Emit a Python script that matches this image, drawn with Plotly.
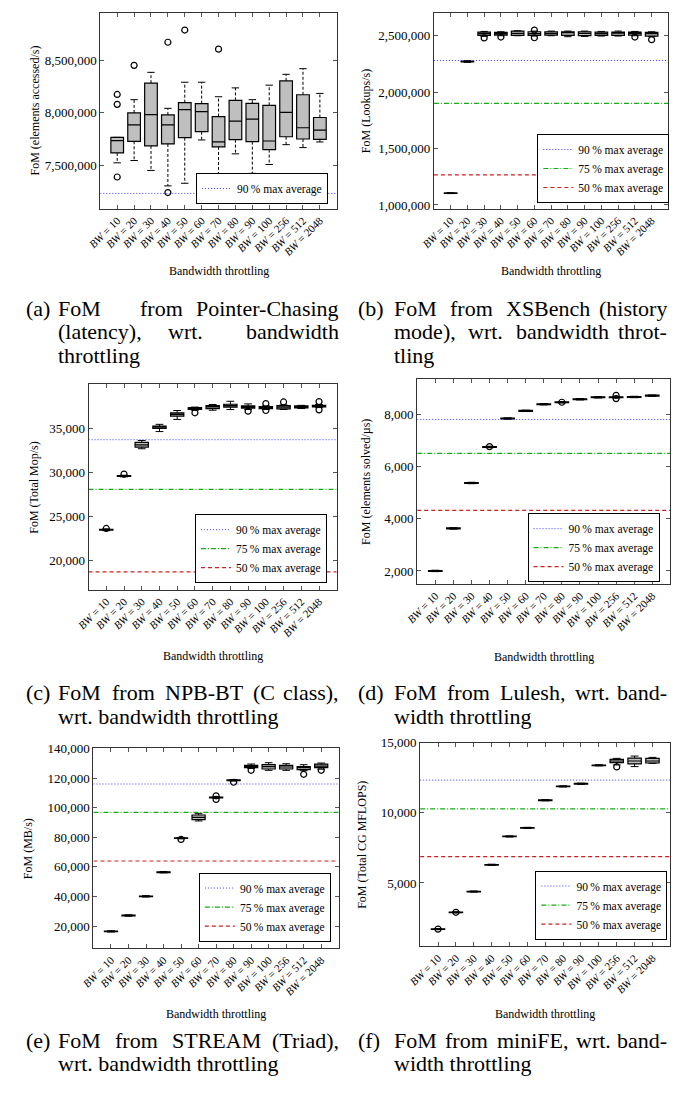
import plotly.graph_objects as go

W, H = 688, 1097
SERIF = "Liberation Serif"

# ---------------- data ----------------
bw_labels = ["10", "20", "30", "40", "50", "60", "70", "80", "90", "100", "256", "512", "2048"]
tick_text = [f"<i>BW</i> = {b}" for b in bw_labels]
xpos = list(range(len(bw_labels)))
ref_labels = ["90\u2009% max average", "75\u2009% max average", "50\u2009% max average"]

# (a) Pointer-Chasing
a_lo = [7522000, 7544000, 7449000, 7301000, 7326000, 7741000, 7290000, 7608000, 7421000, 7506000, 7696000, 7668000, 7722000]
a_q1 = [7617000, 7728000, 7684000, 7703000, 7763000, 7820000, 7674000, 7744000, 7725000, 7649000, 7772000, 7750000, 7747000]
a_med = [7734000, 7886000, 7984000, 7886000, 8032000, 8013000, 7722000, 7921000, 7940000, 7731000, 8006000, 7858000, 7835000]
a_q3 = [7766000, 8000000, 8285000, 7981000, 8098000, 8089000, 7965000, 8120000, 8092000, 8073000, 8307000, 8174000, 7956000]
a_hi = [7766000, 8127000, 8389000, 8044000, 8294000, 8294000, 8155000, 8240000, 8127000, 8266000, 8370000, 8424000, 8187000]
a_out_idx = [0, 0, 0, 1, 3, 3, 4, 6]
a_out_val = [8177000, 8082000, 7386000, 8456000, 8677000, 7237000, 8794000, 8611000]
a_ref = [7229000]
a_yticks = [7500000, 8000000, 8500000]

# (b) XSBench
b_lo = [1101000, 2264000, 2494000, 2500000, 2500000, 2497000, 2500000, 2491000, 2494000, 2497000, 2497000, 2500000, 2491000]
b_q1 = [1103000, 2268000, 2503000, 2506000, 2503000, 2503000, 2506000, 2503000, 2500000, 2503000, 2503000, 2506000, 2497000]
b_med = [1105000, 2272000, 2518000, 2518000, 2520000, 2518000, 2520000, 2529000, 2520000, 2518000, 2523000, 2520000, 2518000]
b_q3 = [1107000, 2275000, 2532000, 2529000, 2541000, 2535000, 2535000, 2535000, 2535000, 2532000, 2532000, 2532000, 2529000]
b_hi = [1109000, 2278000, 2538000, 2535000, 2544000, 2541000, 2541000, 2541000, 2541000, 2538000, 2541000, 2538000, 2535000]
b_out_idx = [2, 3, 5, 5, 11, 12]
b_out_val = [2480000, 2488000, 2550000, 2482000, 2488000, 2465000]
b_ref = [2280600, 1900500, 1267000]
b_yticks = [1000000, 1500000, 2000000, 2500000]

# (c) NPB-BT
c_lo = [23400, 29500, 32685, 34630, 36008, 37050, 37050, 37128, 37130, 37130, 37130, 37240, 37350]
c_q1 = [23450, 29540, 32870, 35000, 36380, 37130, 37240, 37390, 37278, 37240, 37203, 37315, 37427]
c_med = [23500, 29586, 33133, 35150, 36570, 37240, 37427, 37576, 37390, 37352, 37390, 37427, 37539]
c_q3 = [23550, 29630, 33400, 35260, 36755, 37350, 37576, 37725, 37539, 37465, 37576, 37539, 37614]
c_hi = [23600, 29680, 33620, 35450, 37016, 37400, 37690, 38062, 37763, 37540, 37650, 37600, 37700]
c_out_idx = [0, 1, 5, 8, 9, 9, 10, 12, 12]
c_out_val = [23650, 29810, 36755, 36942, 37800, 37016, 37987, 38025, 37090]
c_ref = [33705, 28088, 18725]
c_yticks = [20000, 25000, 30000, 35000]

# (d) Lulesh
d_med = [2002, 3628, 5367, 6747, 7835, 8127, 8380, 8456, 8570, 8646, 8646, 8658, 8709]
d_q1 = [1985, 3610, 5350, 6730, 7818, 8110, 8363, 8439, 8553, 8629, 8629, 8641, 8692]
d_q3 = [2019, 3646, 5384, 6764, 7852, 8144, 8397, 8473, 8587, 8663, 8663, 8675, 8726]
d_lo = [1975, 3600, 5340, 6720, 7808, 8100, 8353, 8429, 8543, 8619, 8619, 8631, 8682]
d_hi = [2029, 3656, 5394, 6774, 7862, 8154, 8407, 8483, 8597, 8673, 8673, 8685, 8736]
d_out_idx = [3, 7, 10, 10]
d_out_val = [6760, 8456, 8722, 8595]
d_ref = [7798, 6500, 4321]
d_yticks = [2000, 4000, 6000, 8000]

# (e) STREAM
e_lo = [16000, 26700, 39650, 55950, 78950, 91050, 106450, 118050, 126500, 125250, 125250, 125000, 126000]
e_q1 = [16250, 26950, 39900, 56200, 79200, 91950, 106700, 118300, 127040, 126140, 126140, 125700, 127040]
e_med = [16450, 27170, 40130, 56410, 79430, 93510, 106920, 118540, 127710, 127710, 127480, 127040, 128150]
e_q3 = [16650, 27400, 40350, 56650, 79650, 95070, 107150, 118750, 128600, 129050, 128600, 127700, 129500]
e_hi = [16900, 27650, 40600, 56900, 79900, 95970, 107400, 119000, 129500, 130390, 129720, 129050, 130170]
e_out_idx = [4, 6, 6, 7, 8, 11, 12]
e_out_val = [78540, 108040, 105580, 117200, 125250, 122570, 125250]
e_ref = [116000, 96860, 64000]
e_yticks = [20000, 40000, 60000, 80000, 100000, 120000, 140000]

# (f) miniFE
f_med = [1711, 2908, 4387, 6292, 8311, 8921, 10893, 11878, 12066, 13380, 13686, 13686, 13686]
f_q1 = [1690, 2885, 4365, 6270, 8290, 8900, 10870, 11855, 12045, 13358, 13568, 13474, 13545]
f_q3 = [1732, 2930, 4410, 6315, 8333, 8943, 10915, 11900, 12088, 13402, 13800, 13897, 13873]
f_lo = [1670, 2865, 4345, 6250, 8270, 8880, 10850, 11835, 12025, 13338, 13404, 13287, 13520]
f_hi = [1752, 2950, 4430, 6335, 8353, 8963, 10935, 11920, 12108, 13422, 13873, 14038, 13944]
f_out_idx = [0, 1, 10]
f_out_val = [1711, 2908, 13263]
f_ref = [12324, 10282, 6880]
f_yticks = [5000, 10000, 15000]

# ---------------- layout geometry (pixels) ----------------
X_RANGE = [-1, 13]
panels = [
    dict(L=89, R=330, T=6, B=204, yr=[7080000, 8958000], ytitle="FoM (elements accessed/s)", ytx=22, xty=267,
         leg=(321, 199)),
    dict(L=429, R=668, T=6, B=204, yr=[964900, 2701750], ytitle="FoM (Lookups/s)", ytx=360, xty=267,
         leg=(669, 198)),
    dict(L=77, R=330, T=381, B=589, yr=[16666, 40000], ytitle="FoM (Total Mop/s)", ytx=22, xty=656,
         leg=(320, 582)),
    dict(L=412, R=670, T=376, B=583, yr=[1496, 9337], ytitle="FoM (elements solved/\u00b5s)", ytx=359, xty=657,
         leg=(659, 581)),
    dict(L=82, R=332, T=749, B=951, yr=[4900, 140000], ytitle="FoM (MB/s)", ytx=16, xty=1017,
         leg=(324, 944)),
    dict(L=415, R=670, T=743, B=949, yr=[474, 15000], ytitle="FoM (Total CG MFLOPS)", ytx=355, xty=1017,
         leg=(667, 942)),
]
panel_data = [
    (a_lo, a_q1, a_med, a_q3, a_hi, a_out_idx, a_out_val, a_ref, a_yticks),
    (b_lo, b_q1, b_med, b_q3, b_hi, b_out_idx, b_out_val, b_ref, b_yticks),
    (c_lo, c_q1, c_med, c_q3, c_hi, c_out_idx, c_out_val, c_ref, c_yticks),
    (d_lo, d_q1, d_med, d_q3, d_hi, d_out_idx, d_out_val, d_ref, d_yticks),
    (e_lo, e_q1, e_med, e_q3, e_hi, e_out_idx, e_out_val, e_ref, e_yticks),
    (f_lo, f_q1, f_med, f_q3, f_hi, f_out_idx, f_out_val, f_ref, f_yticks),
]
ref_styles = [
    dict(color="#3a3aff", width=1, dash="1px,2px"),
    dict(color="#10b010", width=1.2, dash="5px,2px,1px,2px"),
    dict(color="#cc2020", width=1.2, dash="4px,3px"),
]

BOX_W = 0.75
CAP_HALF = 0.22

fig = go.Figure()
layout = dict(width=W, height=H, margin=dict(l=0, r=0, t=0, b=0), autosize=False,
              paper_bgcolor="white", plot_bgcolor="white", annotations=[])

for k, (geo, dat) in enumerate(zip(panels, panel_data), start=1):
    lo, q1, med, q3, hi, oi, ov, refs, yt = dat
    xa = "x" if k == 1 else f"x{k}"
    ya = "y" if k == 1 else f"y{k}"
    lg = "legend" if k == 1 else f"legend{k}"

    # reference lines
    for lvl, lab, st in zip(refs, ref_labels, ref_styles):
        fig.add_trace(go.Scatter(x=X_RANGE, y=[lvl, lvl], mode="lines", line=st, name=lab,
                                 xaxis=xa, yaxis=ya, legend=lg, showlegend=True, hoverinfo="skip"))

    # whiskers (dashed) and caps
    wx, wy = [], []
    cx, cy = [], []
    for i in xpos:
        wx += [i, i, None, i, i, None]
        wy += [q3[i], hi[i], None, q1[i], lo[i], None]
        cx += [i - CAP_HALF, i + CAP_HALF, None, i - CAP_HALF, i + CAP_HALF, None]
        cy += [hi[i], hi[i], None, lo[i], lo[i], None]
    fig.add_trace(go.Scatter(x=wx, y=wy, mode="lines", line=dict(color="black", width=1, dash="3px,2px"),
                             xaxis=xa, yaxis=ya, showlegend=False, hoverinfo="skip"))
    fig.add_trace(go.Scatter(x=cx, y=cy, mode="lines", line=dict(color="black", width=1),
                             xaxis=xa, yaxis=ya, showlegend=False, hoverinfo="skip"))

    # boxes
    fig.add_trace(go.Box(x=xpos, q1=q1, median=med, q3=q3, lowerfence=q1, upperfence=q3,
                         width=BOX_W, whiskerwidth=0, fillcolor="#bfbfbf",
                         line=dict(color="black", width=1.2), boxpoints=False,
                         xaxis=xa, yaxis=ya, showlegend=False, hoverinfo="skip"))

    # outliers
    fig.add_trace(go.Scatter(x=oi, y=ov, mode="markers",
                             marker=dict(symbol="circle-open", size=6, color="black", line=dict(width=1.2)),
                             xaxis=xa, yaxis=ya, showlegend=False, hoverinfo="skip"))

    axname = "xaxis" if k == 1 else f"xaxis{k}"
    ayname = "yaxis" if k == 1 else f"yaxis{k}"
    common = dict(ticks="inside", ticklen=4, tickcolor="#555", mirror="ticks", showline=True,
                  linecolor="#333", linewidth=1, showgrid=False, zeroline=False)
    layout[axname] = dict(domain=[geo["L"] / W, geo["R"] / W], range=X_RANGE, anchor=ya,
                          tickvals=xpos, ticktext=tick_text, tickangle=-45,
                          tickfont=dict(family=SERIF, size=11, color="black"), **common)
    layout[ayname] = dict(domain=[1 - geo["B"] / H, 1 - geo["T"] / H], range=geo["yr"], anchor=xa,
                          tickvals=yt, tickformat=",d",
                          tickfont=dict(family=SERIF, size=13, color="black"), **common)
    lx, lyb = geo["leg"]
    layout[lg] = dict(x=lx / W, y=1 - lyb / H, xanchor="right", yanchor="bottom",
                      bordercolor="black", borderwidth=1, bgcolor="white",
                      font=dict(family=SERIF, size=11.5, color="black"), tracegroupgap=0, itemwidth=30)

    # axis titles
    layout["annotations"].append(dict(text="Bandwidth throttling", x=(geo["L"] + geo["R"]) / 2 / W,
                                      y=1 - geo["xty"] / H, xref="paper", yref="paper", showarrow=False,
                                      xanchor="center", yanchor="middle",
                                      font=dict(family=SERIF, size=12, color="black")))
    layout["annotations"].append(dict(text=geo["ytitle"], x=geo["ytx"] / W,
                                      y=1 - (geo["T"] + geo["B"]) / 2 / H, xref="paper", yref="paper",
                                      showarrow=False, textangle=-90, xanchor="center", yanchor="middle",
                                      font=dict(family=SERIF, size=12, color="black")))

# ---------------- captions ----------------
FS = 22
# approximate Times advance widths (per 1000 em) used to justify caption lines
TW = {" ": 250, "(": 333, ")": 333, ",": 250, ".": 250, "-": 333, "/": 278,
      "a": 444, "b": 500, "c": 444, "d": 500, "e": 444, "f": 333, "g": 500, "h": 500, "i": 278,
      "j": 278, "k": 500, "l": 278, "m": 778, "n": 500, "o": 500, "p": 500, "q": 500, "r": 333,
      "s": 389, "t": 278, "u": 500, "v": 500, "w": 722, "x": 500, "y": 500, "z": 444,
      "A": 722, "B": 667, "C": 667, "D": 722, "E": 611, "F": 556, "G": 722, "H": 722, "I": 333,
      "L": 611, "M": 889, "N": 722, "O": 722, "P": 556, "R": 667, "S": 556, "T": 611, "X": 722}


def text_w(s):
    return sum(TW.get(ch, 500) for ch in s) / 1000 * FS


def cap(text, x_px, base_px, anchor="left"):
    layout["annotations"].append(dict(text=text, x=x_px / W, y=1 - (base_px + 0.216 * FS) / H,
                                      xref="paper", yref="paper", xanchor=anchor, yanchor="bottom",
                                      height=FS, valign="bottom", borderpad=0,
                                      showarrow=False, font=dict(family=SERIF, size=FS, color="black")))


def justify(words, left, right, base):
    widths = [text_w(w) for w in words]
    gap = (right - left - sum(widths)) / (len(words) - 1)
    x = left
    for i, w in enumerate(words):
        if i == len(words) - 1:
            cap(w, right, base, "right")
        else:
            cap(w, x, base)
            x += widths[i] + gap


LC, LT, LR = 12, 45, 333
RC, RT, RR = 351, 387, 668
# (a)
cap("(a)", LC, 313); cap("FoM", LT, 313); cap("from", 128, 313); cap("Pointer-Chasing", LR, 313, "right")
cap("(latency),", LT, 337); cap("wrt.", 157, 337); cap("bandwidth", LR, 337, "right")
cap("throttling", LT, 361)
# (b)
cap("(b)", RC, 313)
justify(["FoM", "from", "XSBench", "(history"], RT, RR, 313)
justify(["mode),", "wrt.", "bandwidth", "throt-"], RT, RR, 337)
cap("tling", RT, 361)
# (c)
cap("(c)", LC, 701)
justify(["FoM", "from", "NPB-BT", "(C", "class),"], LT, LR, 701)
cap("wrt. bandwidth throttling", LT, 726)
# (d)
cap("(d)", RC, 701)
justify(["FoM", "from", "Lulesh,", "wrt.", "band-"], RT, RR, 701)
cap("width throttling", RT, 726)
# (e)
cap("(e)", LC, 1053)
justify(["FoM", "from", "STREAM", "(Triad),"], LT, LR, 1053)
cap("wrt. bandwidth throttling", LT, 1076)
# (f)
cap("(f)", RC, 1053)
justify(["FoM", "from", "miniFE,", "wrt.", "band-"], RT, RR, 1053)
cap("width throttling", RT, 1076)

fig.update_layout(**layout)
fig.write_html("out.html")
